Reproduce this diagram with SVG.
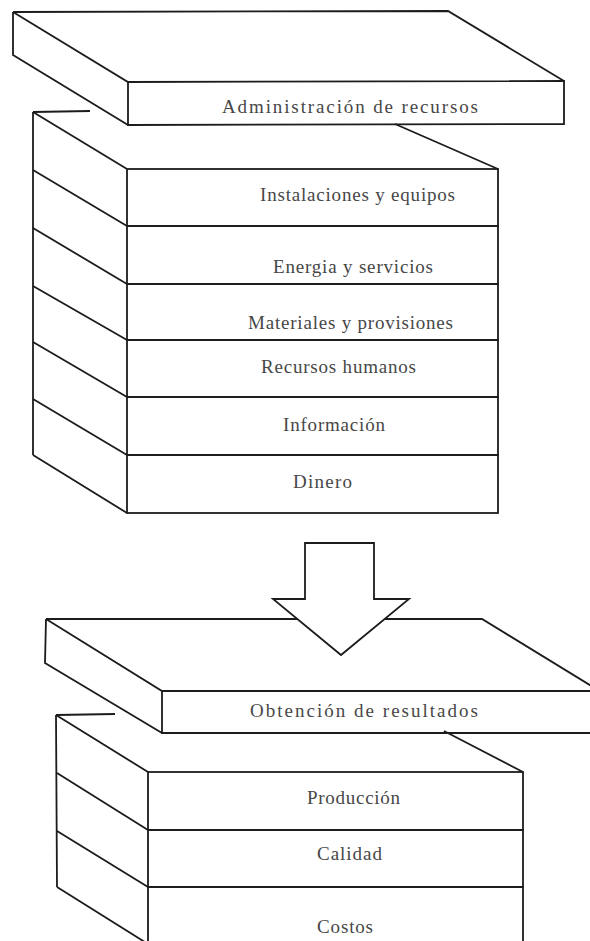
<svg xmlns="http://www.w3.org/2000/svg" width="590" height="941" viewBox="0 0 590 941">
  <style>
    .ln { fill: none; stroke: #1c1c1c; stroke-width: 1.8; stroke-linejoin: miter; stroke-linecap: butt; }
    .wf { fill: #ffffff; stroke: #1c1c1c; stroke-width: 1.8; stroke-linejoin: miter; }
    .lbl { font-family: "Liberation Serif", "Times New Roman", serif; font-size: 19px; fill: #474747; }
  </style>
  <rect width="590" height="941" fill="#ffffff"/>

  <!-- Upper block: resource management slab -->
  <g id="slab-administracion">
    <path class="ln" d="M13,12 L448,11 L564,81 M13,12 L128,82 L564,81 L564,124 L128,125 L128,82 M13,12 L13,55 L128,125"/>
    <text class="lbl" x="222" y="113" textLength="256" lengthAdjust="spacing">Administración de recursos</text>
  </g>

  <!-- Upper block: resource stack (side face and top) -->
  <g id="stack-recursos-frame">
    <path class="ln" d="M33,112 L90,111 M33,112 L33,455 M395,124 L498,169"/>
    <path class="ln" d="M33,112 L127,169 M33,170 L127,226 M33,228 L127,284 M33,286 L127,340 M33,342 L127,397 M33,399 L127,455 M33,455 L127,513"/>
  </g>

  <g id="row-instalaciones">
    <rect class="ln" x="127" y="169" width="371" height="57"/>
    <text class="lbl" x="260" y="201" textLength="195" lengthAdjust="spacing">Instalaciones y equipos</text>
  </g>
  <g id="row-energia">
    <rect class="ln" x="127" y="226" width="371" height="58"/>
    <text class="lbl" x="273" y="273" textLength="160" lengthAdjust="spacing">Energia y servicios</text>
  </g>
  <g id="row-materiales">
    <rect class="ln" x="127" y="284" width="371" height="56"/>
    <text class="lbl" x="248" y="329" textLength="205" lengthAdjust="spacing">Materiales y provisiones</text>
  </g>
  <g id="row-recursos-humanos">
    <rect class="ln" x="127" y="340" width="371" height="57"/>
    <text class="lbl" x="261" y="373" textLength="155" lengthAdjust="spacing">Recursos humanos</text>
  </g>
  <g id="row-informacion">
    <rect class="ln" x="127" y="397" width="371" height="58"/>
    <text class="lbl" x="283" y="431" textLength="102" lengthAdjust="spacing">Información</text>
  </g>
  <g id="row-dinero">
    <rect class="ln" x="127" y="455" width="371" height="58"/>
    <text class="lbl" x="293" y="488" textLength="59" lengthAdjust="spacing">Dinero</text>
  </g>

  <!-- Lower block: results slab -->
  <g id="slab-obtencion">
    <path class="ln" d="M46,619 L482,619 L598,690 M46,619 L162,691 L598,691 M162,691 L162,733 L598,733 M46,619 L45,663 L162,733"/>
    <text class="lbl" x="250" y="717" textLength="228" lengthAdjust="spacing">Obtención de resultados</text>
  </g>

  <!-- Lower block: results stack (side face and top) -->
  <g id="stack-resultados-frame">
    <path class="ln" d="M56,715 L115,714 M56,715 L57,887 M444,731 L523,772"/>
    <path class="ln" d="M56,715 L148,772 M57,773 L148,830 M57,831 L148,887 M57,887 L148,944"/>
  </g>

  <g id="row-produccion">
    <rect class="ln" x="148" y="772" width="375" height="58"/>
    <text class="lbl" x="307" y="804" textLength="93" lengthAdjust="spacing">Producción</text>
  </g>
  <g id="row-calidad">
    <rect class="ln" x="148" y="830" width="375" height="57"/>
    <text class="lbl" x="317" y="860" textLength="65" lengthAdjust="spacing">Calidad</text>
  </g>
  <g id="row-costos">
    <rect class="ln" x="148" y="887" width="375" height="58"/>
    <text class="lbl" x="317" y="933" textLength="56" lengthAdjust="spacing">Costos</text>
  </g>

  <!-- Flow between the two blocks -->
  <g id="connectors">
    <polygon class="wf" points="305,543 374,543 374,599 409,599 341,655 273,599 305,599"/>
  </g>
</svg>
